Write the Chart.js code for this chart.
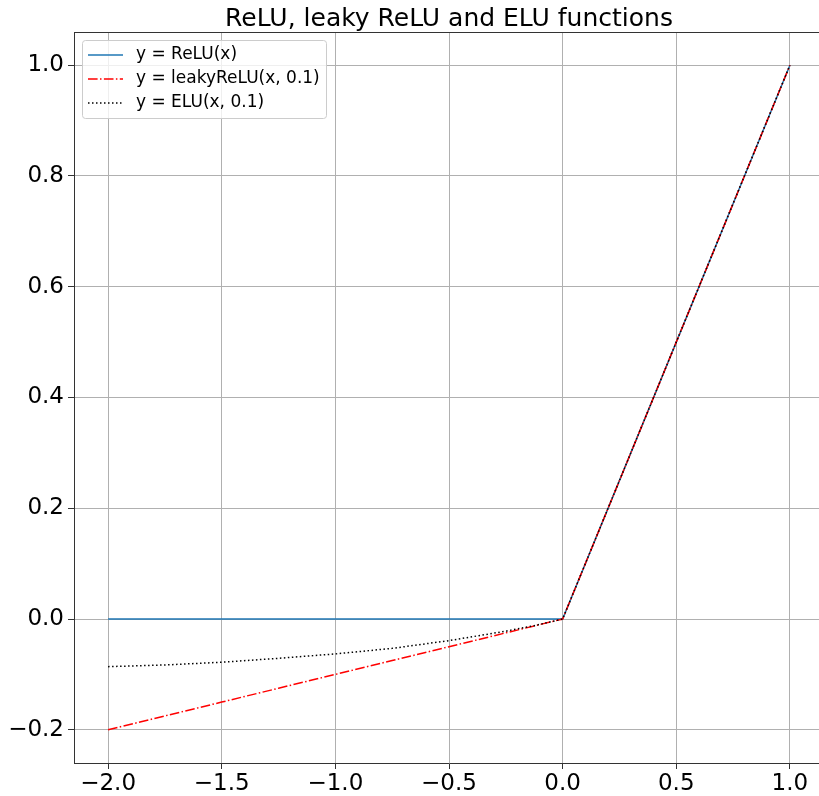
<!DOCTYPE html>
<html>
<head>
<meta charset="utf-8">
<script src="https://cdn.jsdelivr.net/npm/chart.js@4/dist/chart.umd.min.js"></script>
<style>
    html, body { margin: 0; padding: 0; background: #fff; overflow: hidden; }
    #wrap { width: 819px; height: 796px; overflow: hidden; position: relative; }
    canvas { display: block; }
</style>
</head>
<body>
<div id="wrap">
<canvas id="actChart" width="826" height="796"></canvas>
</div>
<script>
// x positions where the curves were read
const xs = [-2.0, -1.75, -1.5, -1.25, -1.0, -0.75, -0.5, -0.25, -0.125, 0.0, 0.5, 1.0];
const reluVals = [0, 0, 0, 0, 0, 0, 0, 0, 0, 0, 0.5, 1.0];
const leakyVals = [-0.2, -0.175, -0.15, -0.125, -0.1, -0.075, -0.05, -0.025, -0.0125, 0, 0.5, 1.0];
const eluVals = [-0.086, -0.083, -0.078, -0.071, -0.063, -0.053, -0.039, -0.022, -0.012, 0, 0.5, 1.0];

const seriesLabels = ['y = ReLU(x)', 'y = leakyReLU(x, 0.1)', 'y = ELU(x, 0.1)'];
const xTicks = [-2.0, -1.5, -1.0, -0.5, 0.0, 0.5, 1.0];
const yTicks = [-0.2, 0.0, 0.2, 0.4, 0.6, 0.8, 1.0];

const FONT = "'DejaVu Sans', sans-serif";

function toPoints(vals) {
    return xs.map((x, i) => ({ x: x, y: vals[i] }));
}

function fmt(v) {
    return v.toFixed(1).replace('-', '\u2212');
}

// matplotlib-like top spine, title and in-axes legend
const decorPlugin = {
    id: 'decor',
    afterDatasetsDraw(chart) {
        const ctx = chart.ctx;
        const area = chart.chartArea;
        ctx.save();

        // top spine
        ctx.strokeStyle = '#333';
        ctx.lineWidth = 1;
        ctx.beginPath();
        ctx.moveTo(area.left, area.top + 0.5);
        ctx.lineTo(area.right, area.top + 0.5);
        ctx.stroke();

        // title
        ctx.fillStyle = '#000';
        ctx.font = '25px ' + FONT;
        ctx.textAlign = 'center';
        ctx.textBaseline = 'alphabetic';
        ctx.fillText('ReLU, leaky ReLU and ELU functions', (area.left + area.right) / 2, 26);

        // legend box
        const bx = 82.5, by = 40.5, bw = 244, bh = 78, r = 3;
        ctx.beginPath();
        ctx.moveTo(bx + r, by);
        ctx.lineTo(bx + bw - r, by);
        ctx.arcTo(bx + bw, by, bx + bw, by + r, r);
        ctx.lineTo(bx + bw, by + bh - r);
        ctx.arcTo(bx + bw, by + bh, bx + bw - r, by + bh, r);
        ctx.lineTo(bx + r, by + bh);
        ctx.arcTo(bx, by + bh, bx, by + bh - r, r);
        ctx.lineTo(bx, by + r);
        ctx.arcTo(bx, by, bx + r, by, r);
        ctx.closePath();
        ctx.fillStyle = 'rgba(255,255,255,0.8)';
        ctx.fill();
        ctx.strokeStyle = '#cccccc';
        ctx.stroke();

        const datasets = chart.data.datasets;
        const rows = [55, 79, 103];
        ctx.font = '17px ' + FONT;
        ctx.textAlign = 'left';
        ctx.textBaseline = 'middle';
        datasets.forEach((ds, i) => {
            const y = rows[i];
            ctx.strokeStyle = ds.borderColor;
            ctx.lineWidth = ds.borderWidth;
            ctx.setLineDash(ds.borderDash || []);
            ctx.beginPath();
            ctx.moveTo(88, y);
            ctx.lineTo(123, y);
            ctx.stroke();
            ctx.setLineDash([]);
            ctx.fillStyle = '#000';
            ctx.fillText(ds.label, 136, y);
        });

        ctx.restore();
    }
};

const ctx = document.getElementById('actChart').getContext('2d');
new Chart(ctx, {
    type: 'scatter',
    data: {
        datasets: [
            {
                label: seriesLabels[0],
                data: toPoints(reluVals),
                borderColor: '#1f77b4',
                borderWidth: 1.5,
                showLine: true,
                pointRadius: 0,
                order: 2
            },
            {
                label: seriesLabels[1],
                data: toPoints(leakyVals),
                borderColor: '#ff0000',
                borderWidth: 1.5,
                borderDash: [9.6, 2.4, 1.5, 2.4],
                showLine: true,
                pointRadius: 0,
                order: 1
            },
            {
                label: seriesLabels[2],
                data: toPoints(eluVals),
                borderColor: '#000000',
                borderWidth: 1.5,
                borderDash: [1.5, 2.5],
                showLine: true,
                pointRadius: 0,
                order: 0
            }
        ]
    },
    options: {
        responsive: false,
        animation: false,
        layout: {
            padding: { left: 0, top: 32, right: 2, bottom: 0 }
        },
        plugins: {
            legend: { display: false },
            title: { display: false },
            tooltip: { enabled: false }
        },
        scales: {
            x: {
                type: 'linear',
                min: -2.15,
                max: 1.15,
                afterBuildTicks: (scale) => {
                    scale.ticks = xTicks.map(v => ({ value: v }));
                },
                afterFit: (scale) => { scale.height = 33; },
                ticks: {
                    callback: (v) => fmt(v),
                    font: { family: FONT, size: 23 },
                    color: '#000',
                    padding: 1,
                    maxRotation: 0,
                    autoSkip: false
                },
                grid: {
                    color: '#b0b0b0',
                    lineWidth: 1,
                    tickColor: '#333',
                    tickLength: 6
                },
                border: { color: '#333', width: 1 }
            },
            y: {
                type: 'linear',
                min: -0.26,
                max: 1.06,
                afterBuildTicks: (scale) => {
                    scale.ticks = yTicks.map(v => ({ value: v }));
                },
                afterFit: (scale) => { scale.width = 74; },
                ticks: {
                    callback: (v) => fmt(v),
                    font: { family: FONT, size: 23 },
                    color: '#000',
                    padding: 4,
                    autoSkip: false
                },
                grid: {
                    color: '#b0b0b0',
                    lineWidth: 1,
                    tickColor: '#333',
                    tickLength: 6
                },
                border: { color: '#333', width: 1 }
            }
        }
    },
    plugins: [decorPlugin]
});
</script>
</body>
</html>
